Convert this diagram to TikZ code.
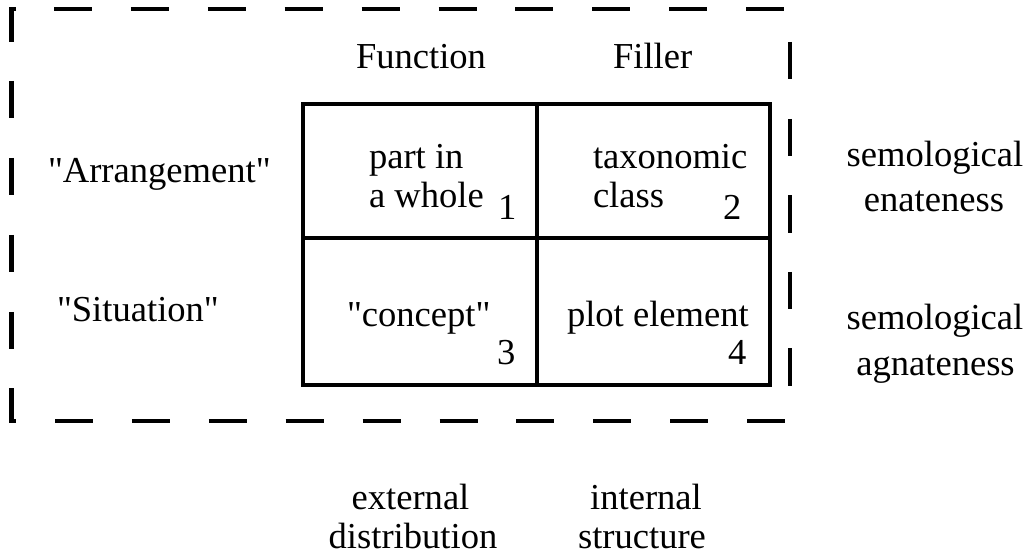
\documentclass[tikz,border=0pt]{standalone}
\usepackage{fontspec}
\setmainfont{Liberation Serif}
% same face without the TeX text mapping, for straight double quotes
\newfontfamily\qfont{Liberation Serif}
\newcommand{\sq}{{\qfont\symbol{34}}}
\begin{document}
\begin{tikzpicture}[x=1bp, y=-1bp,
  lbl/.style={inner sep=0pt, outer sep=0pt, font=\fontsize{36.7}{44}\selectfont},
  grid/.style={line width=3.2bp, line join=miter},
  frame/.style={line width=4.2bp}]
\useasboundingbox (0,0) rectangle (1027,554);

% outer dashed frame, drawn dash by dash
\draw[frame] (16,9) -- (11.5,9) -- (11.5,42);
\foreach \i in {0,...,9} \draw[frame] ({54+76.9*\i},9) -- ++(38,0);
\foreach \y in {81,158,235,312} \draw[frame] (11.5,\y) -- ++(0,37.5);
\draw[frame] (11.5,388) -- (11.5,421) -- (16,421);
\foreach \i in {0,...,9} \draw[frame] ({55+76.9*\i},421) -- ++(38,0);
\foreach \y in {42,119,195.5,272,348.5} \draw[frame] (790,\y) -- ++(0,37.5);

% the four cells
\coordinate (tl) at (303,104);
\coordinate (br) at (770,385);
\coordinate (mt) at (537,104);
\coordinate (mb) at (537,385);
\coordinate (ml) at (303,238);
\coordinate (mr) at (770,238);
\draw[grid] (tl) rectangle (br);
\draw[grid] (mt) -- (mb);
\draw[grid] (ml) -- (mr);

% column heads
\node[lbl, anchor=base west] (func) at (356,69) {Function};
\node[lbl, anchor=base west] (fill) at (613,69) {Filler};

% row heads
\node[lbl, anchor=base west] (arr) at (48,183) {\sq Arrangement\sq};
\node[lbl, anchor=base west] (sit) at (57,322) {\sq Situation\sq};

% cell contents
\node[lbl, anchor=base west] (c1a) at (369,169) {part in};
\node[lbl, anchor=base west] (c1b) at (369,208) {a whole};
\node[lbl, anchor=base west] (n1) at (498,220) {1};
\node[lbl, anchor=base west] (c2a) at (593,169) {taxonomic};
\node[lbl, anchor=base west] (c2b) at (593,208) {class};
\node[lbl, anchor=base west] (n2) at (723,220) {2};
\node[lbl, anchor=base west] (c3) at (347,327) {\sq concept\sq};
\node[lbl, anchor=base west] (n3) at (497,365) {3};
\node[lbl, anchor=base west] (c4) at (567,327) {plot element};
\node[lbl, anchor=base west] (n4) at (728,365) {4};

% right-hand labels
\node[lbl, anchor=base] (r1a) at (935,167) {semological};
\node[lbl, anchor=base] (r1b) at (934,212) {enateness};
\node[lbl, anchor=base] (r2a) at (935,330) {semological};
\node[lbl, anchor=base] (r2b) at (935.5,376) {agnateness};

% bottom labels
\node[lbl, anchor=base] (b1a) at (410.5,509) {external};
\node[lbl, anchor=base] (b1b) at (413,548) {distribution};
\node[lbl, anchor=base] (b2a) at (646,509) {internal};
\node[lbl, anchor=base] (b2b) at (642,548) {structure};
\end{tikzpicture}
\end{document}
